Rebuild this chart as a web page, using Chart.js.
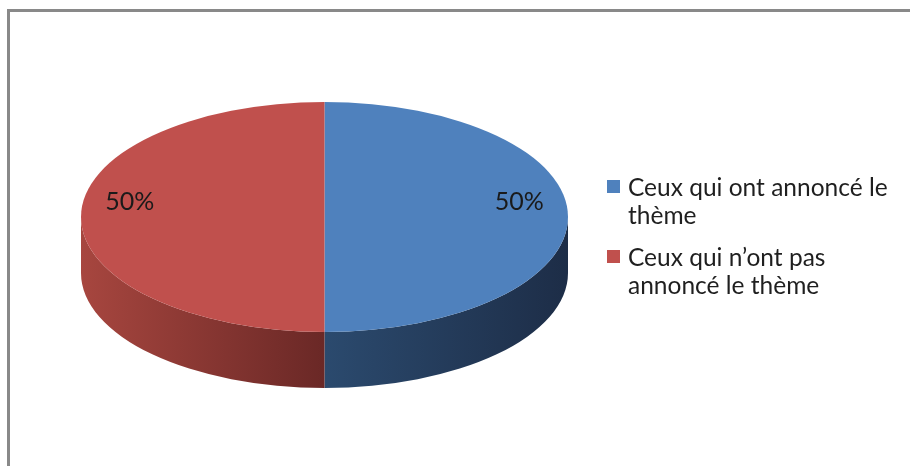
<!DOCTYPE html>
<html>
<head>
<meta charset="utf-8">
<script src="https://cdn.jsdelivr.net/npm/chart.js@4.4.1/dist/chart.umd.min.js"></script>
<style>
  body { margin: 0; background: #fff; }
  #wrap { position: relative; width: 910px; height: 466px; overflow: hidden; }
  #frame { position: absolute; left: 7px; top: 9px; width: 1000px; height: 600px;
           border-top: 3px solid #898989; border-left: 3px solid #898989; }
  #pie { position: absolute; left: 0; top: 0; }
  #legend { position: absolute; left: 607px; top: 173px; font-family: Lato, sans-serif;
            font-size: 24.5px; line-height: 28px; color: #1f1f1f; }
  .item { position: relative; padding-left: 21px; margin-bottom: 14px; }
  .box { position: absolute; left: 0; top: 7px; width: 13px; height: 13px; }
</style>
</head>
<body>
<div id="wrap">
  <div id="frame"></div>
  <canvas id="pie" width="910" height="466"></canvas>
  <div id="legend"></div>
</div>
<script>
// données du graphique
const categories = ['Ceux qui ont annoncé le thème', 'Ceux qui n’ont pas annoncé le thème'];
const legendLines = [['Ceux qui ont annoncé le', 'thème'], ['Ceux qui n’ont pas', 'annoncé le thème']];
const values = [50, 50];
const percentLabels = ['50%', '50%'];

const faceColors = ['#4f81bd', '#c0504d'];
const sideColors = [['#2b4a6e', '#1d2d47'], ['#a7463f', '#6a2826']]; // dégradé gauche -> droite

// forme 3D (ellipse du dessus + épaisseur)
const RX = 243.5, RY = 115, DEPTH = 56;

function pieBox(chart) {
  const arc = chart.getDatasetMeta(0).data[0];
  return { cx: arc.x, cy: arc.y, r: arc.outerRadius };
}

const tiltPlugin = {
  id: 'tilt',
  beforeDatasetsDraw(chart) {
    const ctx = chart.ctx;
    const { cx, cy, r } = pieBox(chart);
    // côtés visibles (demi-ellipse avant)
    chart.getDatasetMeta(0).data.forEach((arc, i) => {
      const a1 = Math.max(arc.startAngle, 0);
      const a2 = Math.min(arc.endAngle, Math.PI);
      if (a2 <= a1) return;
      const xa = cx + RX * Math.cos(a1), xb = cx + RX * Math.cos(a2);
      const g = ctx.createLinearGradient(Math.min(xa, xb), 0, Math.max(xa, xb), 0);
      g.addColorStop(0, sideColors[i][0]);
      g.addColorStop(1, sideColors[i][1]);
      ctx.beginPath();
      ctx.ellipse(cx, cy, RX, RY, 0, a1, a2);
      ctx.ellipse(cx, cy + DEPTH, RX, RY, 0, a2, a1, true);
      ctx.closePath();
      ctx.fillStyle = g;
      ctx.fill();
    });
    // aplatir le disque du dessus
    ctx.save();
    ctx.translate(cx, cy);
    ctx.scale(RX / r, RY / r);
    ctx.translate(-cx, -cy);
  },
  afterDatasetsDraw(chart) {
    const ctx = chart.ctx;
    ctx.restore();
    const { cx, cy } = pieBox(chart);
    ctx.save();
    ctx.font = '25px Lato, sans-serif';
    ctx.fillStyle = '#1a1a1a';
    ctx.textAlign = 'center';
    ctx.textBaseline = 'middle';
    chart.getDatasetMeta(0).data.forEach((arc, i) => {
      const mid = (arc.startAngle + arc.endAngle) / 2;
      const x = cx + 0.8 * RX * Math.cos(mid);
      const y = cy + 0.8 * RY * Math.sin(mid) - 15;
      ctx.fillText(percentLabels[i], x, y);
    });
    ctx.restore();
  }
};

new Chart(document.getElementById('pie'), {
  type: 'pie',
  data: {
    labels: categories,
    datasets: [{
      data: values,
      backgroundColor: faceColors,
      borderWidth: 0
    }]
  },
  options: {
    responsive: false,
    animation: false,
    layout: { padding: { left: 81, right: 342, top: 0, bottom: 32 } },
    plugins: { legend: { display: false }, tooltip: { enabled: false } }
  },
  plugins: [tiltPlugin]
});

const legend = document.getElementById('legend');
legendLines.forEach((lines, i) => {
  const item = document.createElement('div');
  item.className = 'item';
  item.innerHTML = '<span class="box" style="background:' + faceColors[i] + '"></span>' + lines.join('<br>');
  legend.appendChild(item);
});
</script>
</body>
</html>
